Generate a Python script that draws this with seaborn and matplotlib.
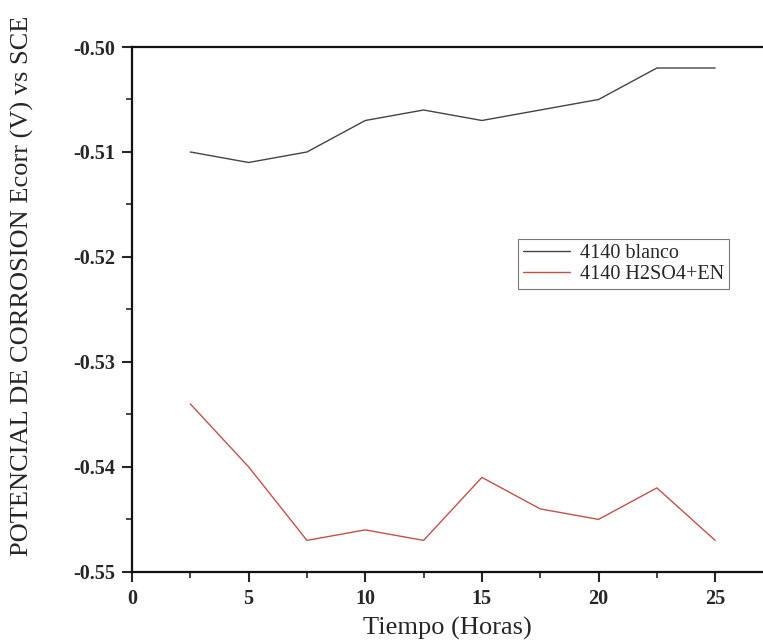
import matplotlib
matplotlib.use("Agg")
import matplotlib.pyplot as plt
from matplotlib.ticker import MultipleLocator, FormatStrFormatter
import seaborn as sns
import pandas as pd

tiempo = [2.5, 5, 7.5, 10, 12.5, 15, 17.5, 20, 22.5, 25]
blanco = [-0.510, -0.511, -0.510, -0.507, -0.506, -0.507, -0.506, -0.505, -0.502, -0.502]
h2so4_en = [-0.534, -0.540, -0.547, -0.546, -0.547, -0.541, -0.544, -0.545, -0.542, -0.547]
series_names = ["4140 blanco", "4140 H2SO4+EN"]
series_colors = ["#444444", "#c8504a"]

df = pd.concat([
    pd.DataFrame({"Tiempo": tiempo, "Ecorr": blanco, "Serie": series_names[0]}),
    pd.DataFrame({"Tiempo": tiempo, "Ecorr": h2so4_en, "Serie": series_names[1]}),
])

sns.set_style("ticks")
plt.rcParams["font.family"] = ["Liberation Serif", "DejaVu Serif"]

fig = plt.figure(figsize=(7.63, 6.44), dpi=100)
ax = fig.add_axes([0.173, 0.112, 0.827, 0.815])

sns.lineplot(data=df, x="Tiempo", y="Ecorr", hue="Serie",
             palette=dict(zip(series_names, series_colors)),
             linewidth=1.0, ax=ax, legend=True)

ax.set_xlim(0, 27.05)
ax.set_ylim(-0.55, -0.50)
ax.xaxis.set_major_locator(MultipleLocator(5))
ax.xaxis.set_minor_locator(MultipleLocator(2.5))
ax.yaxis.set_major_locator(MultipleLocator(0.01))
ax.yaxis.set_minor_locator(MultipleLocator(0.005))
ax.yaxis.set_major_formatter(FormatStrFormatter("%.2f"))

ax.tick_params(which="major", direction="out", length=7, width=1.5,
               labelsize=14.5, pad=5)
ax.tick_params(which="minor", direction="out", length=4, width=1.2)
for lab in ax.get_xticklabels() + ax.get_yticklabels():
    lab.set_fontweight("bold")

for side in ["left", "bottom", "top"]:
    ax.spines[side].set_linewidth(1.6)
    ax.spines[side].set_color("#111111")
ax.spines["right"].set_visible(False)

ax.set_xlabel("Tiempo (Horas)", fontsize=19, labelpad=6)
ax.set_ylabel("POTENCIAL DE CORROSION Ecorr (V) vs SCE", fontsize=19)
ax.yaxis.set_label_coords(-0.155, 0.545)

leg = ax.legend(title=None, loc="upper left", bbox_to_anchor=(0.612, 0.635),
                fontsize=14.5, frameon=True, fancybox=False, handlelength=2.3,
                borderpad=0.25, labelspacing=0.1, handletextpad=0.5,
                borderaxespad=0)
leg.get_frame().set_edgecolor("#555555")
leg.get_frame().set_linewidth(0.8)

fig.savefig("out.png", dpi=100)
